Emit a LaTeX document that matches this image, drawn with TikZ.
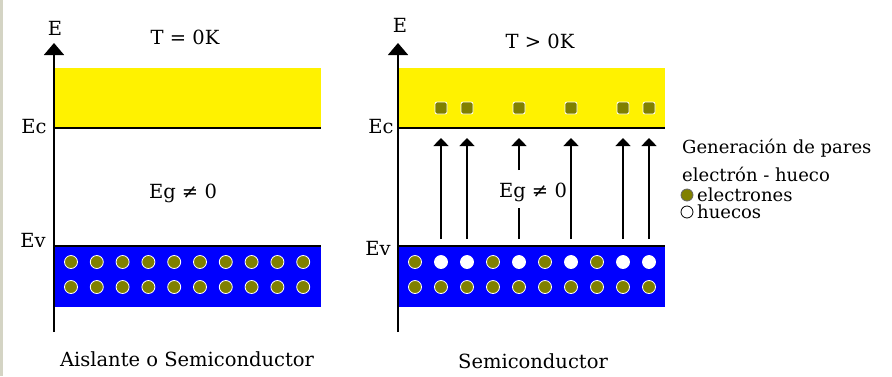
\documentclass[tikz,border=0pt]{standalone}
\usepackage{fontspec}
\setmainfont{DejaVu Serif}
\usetikzlibrary{arrows.meta}
\definecolor{olivedot}{RGB}{128,128,0}
\definecolor{sidebar}{RGB}{212,212,196}
\tikzset{
  lbl/.style={font=\fontsize{19.5}{22}\selectfont, inner sep=0pt},
  leg/.style={font=\fontsize{18}{20}\selectfont, inner sep=0pt, anchor=west},
  band/.style={rectangle, inner sep=0pt, minimum width=266pt},
  edot/.style={circle, fill=olivedot, draw=white, line width=0.8pt, minimum size=13pt, inner sep=0pt},
  hdot/.style={circle, fill=white, draw=white, line width=0.8pt, minimum size=13pt, inner sep=0pt},
  esq/.style={rectangle, rounded corners=2pt, fill=olivedot, draw=white, line width=0.8pt, minimum size=12pt, inner sep=0pt},
  legdot/.style={circle, line width=0.8pt, minimum size=12pt, inner sep=0pt},
  axisline/.style={line width=1.6pt, -{Triangle[width=20pt,length=12pt]}},
  genarrow/.style={line width=1.4pt, -{Triangle[width=15pt,length=8pt]}},
  genline/.style={line width=1.4pt},
  bandedge/.style={line width=1.8pt},
}
\begin{document}
\begin{tikzpicture}[x=1pt,y=-1pt]
\useasboundingbox (0,0) rectangle (892,376);
\fill[white] (0,0) rectangle (892,376);
\fill[sidebar] (0,0) rectangle (2.5,376);

% ---------- left panel ----------
\node[band, fill=yellow, minimum height=60pt] (cb1) at (188,98) {};
\node[band, fill=blue, minimum height=61pt] (vb1) at (188,276.5) {};
\draw[bandedge] (cb1.south west) -- (cb1.south east);
\draw[bandedge] (vb1.north west) -- (vb1.north east);
\coordinate (a1b) at (54,332);
\coordinate (a1t) at (54,43);
\draw[axisline] (a1b) -- (a1t);
\foreach \i in {0,...,9}{
  \node[edot] (l1d\i) at ({71+25.8*\i},262) {};
  \node[edot] (l2d\i) at ({71+25.8*\i},287) {};
}
\node[lbl] (e1) at (55,28) {E};
\node[lbl] (t1) at (185,37) {T = 0K};
\node[lbl] (ec1) at (34,127) {Ec};
\node[lbl] (ev1) at (33,240) {Ev};
\node[lbl] (eg1) at (183,193) {Eg ≠ 0};
\node[lbl] (cap1) at (187,359) {Aislante o Semiconductor};

% ---------- right panel ----------
\node[band, fill=yellow, minimum height=60pt] (cb2) at (532,98) {};
\node[band, fill=blue, minimum height=61pt] (vb2) at (532,276.5) {};
\draw[bandedge] (cb2.south west) -- (cb2.south east);
\draw[bandedge] (vb2.north west) -- (vb2.north east);
\coordinate (a2b) at (398,332);
\coordinate (a2t) at (398,43);
\draw[axisline] (a2b) -- (a2t);
\foreach \i in {0,...,9}{
  \node[edot] (r2d\i) at ({415+26*\i},287) {};
}
\foreach \i in {0,3,5,7}{
  \node[edot] (r1d\i) at ({415+26*\i},262) {};
}
\foreach \i in {1,2,4,6,8,9}{
  \node[hdot] (r1d\i) at ({415+26*\i},262) {};
  \node[esq] (c\i) at ({415+26*\i},108) {};
  \coordinate (gs\i) at ({415+26*\i},239);
  \coordinate (gt\i) at ({415+26*\i},138);
}
\foreach \i in {1,2,6,8,9}{
  \draw[genarrow] (gs\i) -- (gt\i);
}
\coordinate (gm4a) at (519,208);
\coordinate (gm4b) at (519,170);
\draw[genline] (gs4) -- (gm4a);
\draw[genarrow] (gm4b) -- (gt4);
\node[lbl] (e2) at (400,25) {E};
\node[lbl] (t2) at (540,41) {T > 0K};
\node[lbl] (ec2) at (381,127) {Ec};
\node[lbl] (ev2) at (378,248) {Ev};
\node[lbl] (eg2) at (533,192) {Eg ≠ 0};
\node[lbl] (cap2) at (533,361) {Semiconductor};

% ---------- legend ----------
\node[leg] (lg1) at (682,148) {Generación de pares};
\node[leg] (lg2) at (682,174) {electrón - hueco};
\node[legdot, fill=olivedot, draw=black!60] (lge) at (687,195) {};
\node[leg] (lg3) at (697,195) {electrones};
\node[legdot, fill=white, draw=black] (lgh) at (687,212) {};
\node[leg] (lg4) at (697,212) {huecos};
\end{tikzpicture}
\end{document}
